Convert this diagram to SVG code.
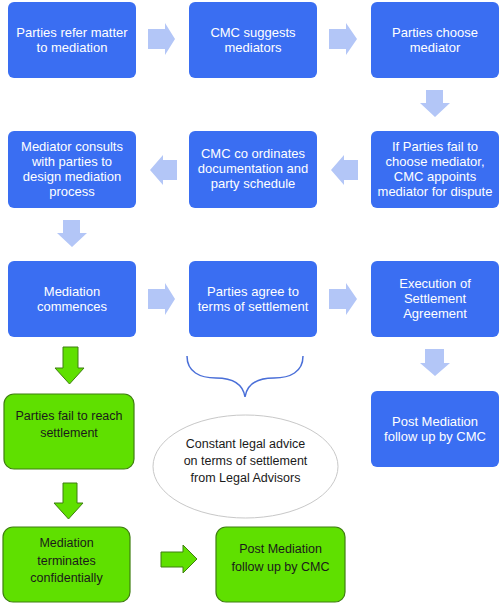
<svg xmlns="http://www.w3.org/2000/svg" width="500" height="603" viewBox="0 0 500 603">
<style>
.b{fill:#3a6ef2}
.g{fill:#5fe000;stroke:#3f7f10;stroke-width:1.2}
.la{fill:#b3c6f7}
.ga{fill:#5fe000;stroke:#3f7f10;stroke-width:1}
.t{font-family:"Liberation Sans",Arial,sans-serif;font-size:13px;fill:#fff;text-anchor:middle}
.k{font-family:"Liberation Sans",Arial,sans-serif;font-size:12.5px;fill:#1a1a1a;text-anchor:middle}
</style>
<rect width="500" height="603" fill="#fff"/>
<g id="connectors">
<polygon class="la" points="148,29 165,29 165,23 175,39 165,55 165,49 148,49"/>
<polygon class="la" points="329,29 346,29 346,23 357,39 346,55 346,49 329,49"/>
<polygon class="la" points="426,90 443,90 443,103 450,103 435,117 420,103 426,103"/>
<polygon class="la" points="177,160 163,160 163,155 150,170 163,185 163,180 177,180"/>
<polygon class="la" points="358,160 344,160 344,155 331,170 344,185 344,180 358,180"/>
<polygon class="la" points="63,220 80,220 80,233 87,233 72,247 57,233 63,233"/>
<polygon class="la" points="148,289 165,289 165,283 175,299 165,315 165,309 148,309"/>
<polygon class="la" points="329,289 346,289 346,283 357,299 346,315 346,309 329,309"/>
<polygon class="la" points="425,349 444,349 444,363 450,363 435,376 420,363 425,363"/>
<polygon class="ga" points="63,347 78,347 78,368 84,368 69.5,384 55,368 63,368"/>
<polygon class="ga" points="63,483 77,483 77,503 83,503 68.5,519 54,503 63,503"/>
<polygon class="ga" points="161,552 183,552 183,545 197,559 183,573 183,567 161,567"/>
<path d="M187,356 C187,372 200,378 216,378 C232,378 243,384 245,397 C247,384 258,378 274,378 C290,378 303,372 303,356" fill="none" stroke="#4a6fd8" stroke-width="1.5"/>
</g>
<g id="n1"><rect class="b" x="8" y="2" width="128" height="76" rx="6"/><text class="t" x="72" y="37">Parties refer matter</text><text class="t" x="72" y="52">to mediation</text></g>
<g id="n2"><rect class="b" x="189" y="2" width="128" height="76" rx="6"/><text class="t" x="253" y="37">CMC suggests</text><text class="t" x="253" y="52">mediators</text></g>
<g id="n3"><rect class="b" x="371" y="2" width="128" height="76" rx="6"/><text class="t" x="435" y="37">Parties choose</text><text class="t" x="435" y="52">mediator</text></g>
<g id="n4"><rect class="b" x="371" y="131" width="128" height="77" rx="6"/><text class="t" x="435" y="151">If Parties fail to</text><text class="t" x="435" y="166">choose mediator,</text><text class="t" x="435" y="181">CMC appoints</text><text class="t" x="435" y="196">mediator for dispute</text></g>
<g id="n5"><rect class="b" x="189" y="131" width="128" height="77" rx="6"/><text class="t" x="253" y="158">CMC co ordinates</text><text class="t" x="253" y="173">documentation and</text><text class="t" x="253" y="188">party schedule</text></g>
<g id="n6"><rect class="b" x="8" y="131" width="128" height="77" rx="6"/><text class="t" x="72" y="151">Mediator consults</text><text class="t" x="72" y="166">with parties to</text><text class="t" x="72" y="181">design mediation</text><text class="t" x="72" y="196">process</text></g>
<g id="n7"><rect class="b" x="8" y="261" width="128" height="76" rx="6"/><text class="t" x="72" y="296">Mediation</text><text class="t" x="72" y="311">commences</text></g>
<g id="n8"><rect class="b" x="189" y="261" width="128" height="76" rx="6"/><text class="t" x="253" y="296">Parties agree to</text><text class="t" x="253" y="311">terms of settlement</text></g>
<g id="n9"><rect class="b" x="371" y="261" width="128" height="76" rx="6"/><text class="t" x="435" y="288">Execution of</text><text class="t" x="435" y="303">Settlement</text><text class="t" x="435" y="318">Agreement</text></g>
<g id="n10"><rect class="b" x="371" y="391" width="128" height="76" rx="6"/><text class="t" x="435" y="426">Post Mediation</text><text class="t" x="435" y="441">follow up by CMC</text></g>
<g id="n11"><rect class="g" x="4" y="394" width="130" height="75" rx="10"/><text class="k" x="69" y="420">Parties fail to reach</text><text class="k" x="69" y="437">settlement</text></g>
<g id="n12"><ellipse cx="245.5" cy="466.5" rx="92.5" ry="51.5" fill="#fff" stroke="#c8c8c8" stroke-width="1"/><text class="k" x="245.5" y="448">Constant legal advice</text><text class="k" x="245.5" y="465">on terms of settlement</text><text class="k" x="245.5" y="482">from Legal Advisors</text></g>
<g id="n13"><rect class="g" x="3" y="527" width="127" height="75" rx="10"/><text class="k" x="66.5" y="547">Mediation</text><text class="k" x="66.5" y="565">terminates</text><text class="k" x="66.5" y="582">confidentially</text></g>
<g id="n14"><rect class="g" x="216" y="527" width="129" height="75" rx="10"/><text class="k" x="280.5" y="553">Post Mediation</text><text class="k" x="280.5" y="571">follow up by CMC</text></g>
</svg>
